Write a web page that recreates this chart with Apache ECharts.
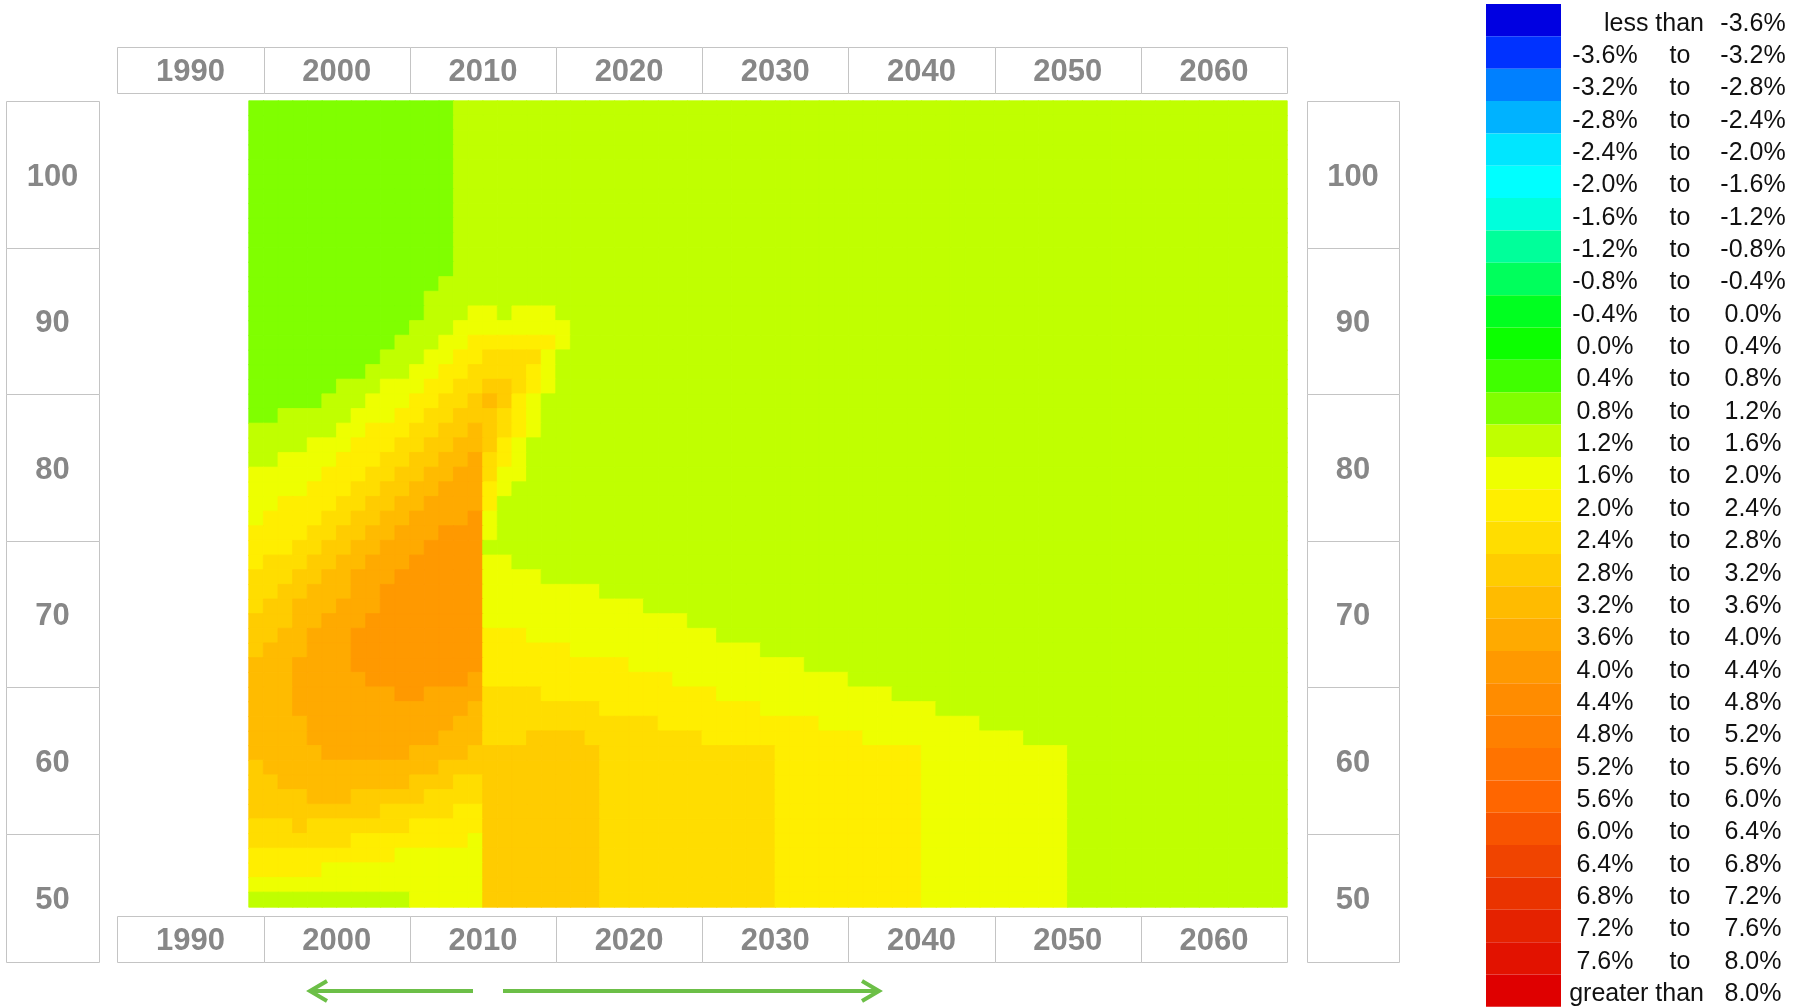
<!DOCTYPE html>
<html>
<head>
<meta charset="utf-8">
<title>Mortality improvement heat map</title>
<script src="https://cdn.jsdelivr.net/npm/echarts@6/dist/echarts.min.js"></script>
<style>
  html, body { margin: 0; padding: 0; background: #ffffff; }
  #chart { width: 1802px; height: 1007px; }
</style>
</head>
<body>
<div id="chart"></div>
<script>
// ---- Data ---------------------------------------------------------------

// Calendar years (columns) and ages (rows) covered by the grid
const firstYear = 1994, lastYear = 2064;
const firstAge = 50, lastAge = 104;
const years = [];
for (let y = firstYear; y <= lastYear; y++) years.push(String(y));
const ages = [];
for (let a = firstAge; a <= lastAge; a++) ages.push(String(a));

// Labels printed in the frame boxes around the grid
const decadeLabels = [1990, 2000, 2010, 2020, 2030, 2040, 2050, 2060];
const ageLabels = [100, 90, 80, 70, 60, 50];

// Colour bands of the annual improvement rate (%)
const bandBreaks = [-3.6, -3.2, -2.8, -2.4, -2.0, -1.6, -1.2, -0.8, -0.4, 0.0,
                    0.4, 0.8, 1.2, 1.6, 2.0, 2.4, 2.8, 3.2, 3.6, 4.0,
                    4.4, 4.8, 5.2, 5.6, 6.0, 6.4, 6.8, 7.2, 7.6, 8.0];
const bandColors = ['#0000e1', '#0032ff', '#0080ff', '#00b2ff', '#00e6ff', '#00ffff',
                    '#00ffdc', '#00ff9a', '#00ff5c', '#00ff20', '#0cff00', '#40ff00',
                    '#80ff00', '#c0ff00', '#eeff00', '#ffee00', '#ffdd00', '#ffcc00',
                    '#ffbb00', '#ffaa00', '#ff9900', '#ff8c00', '#ff8000', '#ff7300',
                    '#ff6600', '#f85400', '#f04400', '#ea3300', '#e52200', '#e21200',
                    '#df0000'];

// Annual rate of mortality improvement (%), one row per age from 104 down to 50.
// Each row is a list of [rate, number of consecutive years] pairs starting in 1994.
const improvementRuns = [
  [1.0,14, 1.4,57],                                   // 104
  [1.0,14, 1.4,57],                                   // 103
  [1.0,14, 1.4,57],                                   // 102
  [1.0,14, 1.4,57],                                   // 101
  [1.0,14, 1.4,57],                                   // 100
  [1.0,14, 1.4,57],                                   // 99
  [1.0,14, 1.4,57],                                   // 98
  [1.0,14, 1.4,57],                                   // 97
  [1.0,14, 1.4,57],                                   // 96
  [1.0,14, 1.4,57],                                   // 95
  [1.0,14, 1.4,57],                                   // 94
  [1.0,14, 1.4,57],                                   // 93
  [1.0,13, 1.4,58],                                   // 92
  [1.0,12, 1.4,59],                                   // 91
  [1.0,12, 1.4,3, 1.8,2, 1.4,1, 1.8,3, 1.4,50],       // 90
  [1.0,11, 1.4,3, 1.8,8, 1.4,49],                     // 89
  [1.0,10, 1.4,3, 1.8,2, 2.2,6, 1.8,1, 1.4,49],       // 88
  [1.0,9, 1.4,3, 1.8,2, 2.2,2, 2.6,4, 1.8,1, 1.4,50], // 87
  [1.0,8, 1.4,3, 1.8,2, 2.2,2, 2.6,4, 2.2,1, 1.8,1, 1.4,50],                 // 86
  [1.0,6, 1.4,3, 1.8,3, 2.2,2, 2.6,2, 3.0,2, 2.6,1, 2.2,1, 1.8,1, 1.4,50],   // 85
  [1.0,5, 1.4,3, 1.8,3, 2.2,2, 2.6,2, 3.0,1, 3.4,1, 3.0,1, 2.2,1, 1.8,1, 1.4,51], // 84
  [1.0,2, 1.4,5, 1.8,3, 2.2,2, 2.6,2, 3.0,3, 2.6,1, 2.2,1, 1.8,1, 1.4,51],   // 83
  [1.4,6, 1.8,2, 2.2,3, 2.6,2, 3.0,2, 3.4,1, 3.0,1, 2.6,1, 2.2,1, 1.8,1, 1.4,51], // 82
  [1.4,4, 1.8,3, 2.2,3, 2.6,2, 3.0,2, 3.4,2, 3.0,1, 2.2,1, 1.8,1, 1.4,52],   // 81
  [1.4,2, 1.8,4, 2.2,3, 2.6,2, 3.0,2, 3.4,2, 3.8,1, 2.6,1, 2.2,1, 1.8,1, 1.4,52], // 80
  [1.8,5, 2.2,3, 2.6,2, 3.0,2, 3.4,2, 3.8,2, 2.6,1, 1.8,2, 1.4,52],          // 79
  [1.8,4, 2.2,3, 2.6,2, 3.0,2, 3.4,2, 3.8,3, 2.2,1, 1.8,1, 1.4,53],          // 78
  [1.8,2, 2.2,4, 2.6,2, 3.0,2, 3.4,2, 3.8,4, 2.2,1, 1.4,54],                 // 77
  [1.8,1, 2.2,4, 2.6,2, 3.0,2, 3.4,2, 3.8,4, 4.2,1, 1.8,1, 1.4,54],          // 76
  [2.2,4, 2.6,2, 3.0,2, 3.4,2, 3.8,3, 4.2,3, 1.8,1, 1.4,54],                 // 75
  [2.2,3, 2.6,2, 3.0,2, 3.4,2, 3.8,3, 4.2,4, 1.4,55],                        // 74
  [2.2,1, 2.6,3, 3.0,2, 3.4,2, 3.8,3, 4.2,5, 1.8,2, 1.4,53],                 // 73
  [2.6,3, 3.0,2, 3.4,2, 3.8,3, 4.2,6, 1.8,4, 1.4,51],                        // 72
  [2.6,2, 3.0,2, 3.4,3, 3.8,2, 4.2,7, 1.8,8, 1.4,47],                        // 71
  [2.6,1, 3.0,2, 3.4,3, 3.8,3, 4.2,7, 1.8,11, 1.4,44],                       // 70
  [3.0,3, 3.4,2, 3.8,3, 4.2,8, 1.8,14, 1.4,41],                              // 69
  [3.0,2, 3.4,2, 3.8,3, 4.2,9, 2.2,3, 1.8,13, 1.4,39],                       // 68
  [3.0,1, 3.4,3, 3.8,3, 4.2,9, 2.2,6, 1.8,13, 1.4,36],                       // 67
  [3.4,3, 3.8,4, 4.2,9, 2.2,10, 1.8,12, 1.4,33],                             // 66
  [3.4,3, 3.8,5, 4.2,7, 3.8,1, 2.2,13, 1.8,12, 1.4,30],                      // 65
  [3.4,3, 3.8,7, 4.2,2, 3.8,4, 2.6,4, 2.2,12, 1.8,12, 1.4,27],               // 64
  [3.4,3, 3.8,12, 3.4,1, 2.6,8, 2.2,11, 1.8,12, 1.4,24],                     // 63
  [3.4,4, 3.8,10, 3.4,2, 2.6,12, 2.2,11, 1.8,11, 1.4,21],                    // 62
  [3.4,4, 3.8,9, 3.4,3, 2.6,3, 3.0,4, 2.6,8, 2.2,11, 1.8,11, 1.4,18],        // 61
  [3.4,5, 3.8,6, 3.4,4, 3.0,9, 2.6,12, 2.2,10, 1.8,10, 1.4,15],              // 60
  [3.0,1, 3.4,12, 3.0,11, 2.6,12, 2.2,10, 1.8,10, 1.4,15],                   // 59
  [3.0,2, 3.4,9, 3.0,3, 2.6,2, 3.0,8, 2.6,12, 2.2,10, 1.8,10, 1.4,15],       // 58
  [3.0,4, 3.4,3, 3.0,5, 2.6,4, 3.0,8, 2.6,12, 2.2,10, 1.8,10, 1.4,15],       // 57
  [3.0,9, 2.6,5, 2.2,2, 3.0,8, 2.6,12, 2.2,10, 1.8,10, 1.4,15],              // 56
  [2.6,3, 3.0,1, 2.6,7, 2.2,5, 3.0,8, 2.6,12, 2.2,10, 1.8,10, 1.4,15],       // 55
  [2.6,7, 2.2,8, 1.8,1, 3.0,8, 2.6,12, 2.2,10, 1.8,10, 1.4,15],              // 54
  [2.2,10, 1.8,6, 3.0,8, 2.6,12, 2.2,10, 1.8,10, 1.4,15],                    // 53
  [2.2,5, 1.8,11, 3.0,8, 2.6,12, 2.2,10, 1.8,10, 1.4,15],                    // 52
  [1.8,16, 3.0,8, 2.6,12, 2.2,10, 1.8,10, 1.4,15],                           // 51
  [1.4,11, 1.8,5, 3.0,8, 2.6,12, 2.2,10, 1.8,10, 1.4,15]                     // 50
];

// ---- Build heatmap cells ------------------------------------------------

// Colour of the band a rate falls into (used to give each cell a matching
// hairline border so neighbouring cells join without seams)
function bandColorOf(v) {
  let i = 0;
  while (i < bandBreaks.length && v >= bandBreaks[i]) i++;
  return bandColors[i];
}

const heatData = [];
improvementRuns.forEach(function (runs, r) {
  const age = lastAge - r;
  let col = 0;
  for (let i = 0; i < runs.length; i += 2) {
    for (let k = 0; k < runs[i + 1]; k++) {
      if (col < years.length) {
        heatData.push({
          value: [col, age - firstAge, runs[i]],
          itemStyle: { borderColor: bandColorOf(runs[i]), borderWidth: 0.8 }
        });
      }
      col++;
    }
  }
});

// visualMap pieces from the band limits
const pieces = bandColors.map(function (color, i) {
  if (i === 0) return { lt: bandBreaks[0], color: color };
  if (i === bandColors.length - 1) return { gte: bandBreaks[i - 1], color: color };
  return { gte: bandBreaks[i - 1], lt: bandBreaks[i], color: color };
});

// ---- Layout -------------------------------------------------------------
const plot = { left: 249, top: 101, width: 1038, height: 806 };
const cellW = plot.width / years.length;
const cellH = plot.height / ages.length;
const frameColor = '#c4c4c4';
const labelColor = '#878787';
const labelFont = 'bold 31px "Liberation Sans", Arial, sans-serif';
const legendFont = '25px "Liberation Sans", Arial, sans-serif';
const labelDrop = 3;   // optical vertical offset of the box captions
const crisp = function (v) { return Math.round(v) + 0.5; };

const graphics = [];

// Year boxes above and below the grid (each box spans five years either side of its label)
const yearBoxRows = [[46.5, 92.5], [915.5, 962]];
yearBoxRows.forEach(function (rowY) {
  decadeLabels.forEach(function (d) {
    const x0 = plot.left + (d - 5 - firstYear) * cellW;
    const x1 = x0 + 10 * cellW;
    graphics.push({
      type: 'rect', z: 1,
      shape: { x: crisp(x0), y: crisp(rowY[0]), width: Math.round(x1) - Math.round(x0), height: Math.round(rowY[1]) - Math.round(rowY[0]) },
      style: { fill: '#ffffff', stroke: frameColor, lineWidth: 1 }
    });
    graphics.push({
      type: 'text', z: 2, x: (x0 + x1) / 2, y: (rowY[0] + rowY[1]) / 2 + labelDrop,
      style: { text: String(d), font: labelFont, fill: labelColor, align: 'center', verticalAlign: 'middle' }
    });
  });
});

// Age boxes left and right of the grid
const ageBoxCols = [[6, 99], [1307, 1399]];
const frameBottom = 962;
ageBoxCols.forEach(function (colX) {
  ageLabels.forEach(function (a) {
    const y0 = plot.top + (lastAge - (a + 4)) * cellH;
    const y1 = Math.min(y0 + 10 * cellH, frameBottom);
    graphics.push({
      type: 'rect', z: 1,
      shape: { x: crisp(colX[0]), y: crisp(y0), width: colX[1] - colX[0], height: Math.round(y1) - Math.round(y0) },
      style: { fill: '#ffffff', stroke: frameColor, lineWidth: 1 }
    });
    graphics.push({
      type: 'text', z: 2, x: (colX[0] + colX[1]) / 2, y: (y0 + y1) / 2 + labelDrop,
      style: { text: String(a), font: labelFont, fill: labelColor, align: 'center', verticalAlign: 'middle' }
    });
  });
});

// Arrows under the grid: past to the left, projection to the right
const arrowColor = '#6cbf47';
const arrowY = 991;
[[473, 310], [503, 879]].forEach(function (seg) {
  const dir = seg[1] > seg[0] ? 1 : -1;
  graphics.push({
    type: 'polyline', z: 2,
    shape: { points: [[seg[0], arrowY], [seg[1], arrowY]] },
    style: { stroke: arrowColor, lineWidth: 4, fill: null }
  });
  graphics.push({
    type: 'polyline', z: 2,
    shape: { points: [[seg[1] - dir * 17, arrowY - 10], [seg[1], arrowY], [seg[1] - dir * 17, arrowY + 10]] },
    style: { stroke: arrowColor, lineWidth: 4, fill: null, lineJoin: 'miter' }
  });
});

// Legend captions beside the visualMap swatches
const legendTop = 4, legendItemH = 32.35;
const fmt = function (v) { return v.toFixed(1) + '%'; };
bandColors.forEach(function (c, i) {
  const yc = legendTop + legendItemH * (i + 0.5) + 3.5;
  const txt = function (text, x, align) {
    graphics.push({
      type: 'text', z: 2, x: x, y: yc,
      style: { text: text, font: legendFont, fill: '#111111', align: align, verticalAlign: 'middle' }
    });
  };
  if (i === 0) {
    txt('less than', 1704, 'right');
    txt(fmt(bandBreaks[0]), 1753, 'center');
  } else if (i === bandColors.length - 1) {
    txt('greater than', 1704, 'right');
    txt(fmt(bandBreaks[i - 1]), 1753, 'center');
  } else {
    txt(fmt(bandBreaks[i - 1]), 1605, 'center');
    txt('to', 1680, 'center');
    txt(fmt(bandBreaks[i]), 1753, 'center');
  }
});

// ---- Chart --------------------------------------------------------------
const chart = echarts.init(document.getElementById('chart'), null, { renderer: 'canvas', width: 1802, height: 1007 });
chart.setOption({
  animation: false,
  backgroundColor: '#ffffff',
  grid: { left: plot.left, top: plot.top, width: plot.width, height: plot.height, containLabel: false },
  xAxis: { type: 'category', data: years, show: false },
  yAxis: { type: 'category', data: ages, show: false },
  visualMap: {
    type: 'piecewise',
    seriesIndex: 0,
    dimension: 2,
    pieces: pieces,
    orient: 'vertical',
    inverse: true,
    left: 1486,
    top: legendTop,
    padding: 0,
    itemWidth: 75,
    itemHeight: legendItemH,
    itemGap: 0,
    itemSymbol: 'rect',
    showLabel: false,
    selectedMode: false,
    hoverLink: false
  },
  series: [{
    type: 'heatmap',
    data: heatData,
    emphasis: { disabled: true }
  }],
  graphic: { elements: graphics }
});
</script>
</body>
</html>
